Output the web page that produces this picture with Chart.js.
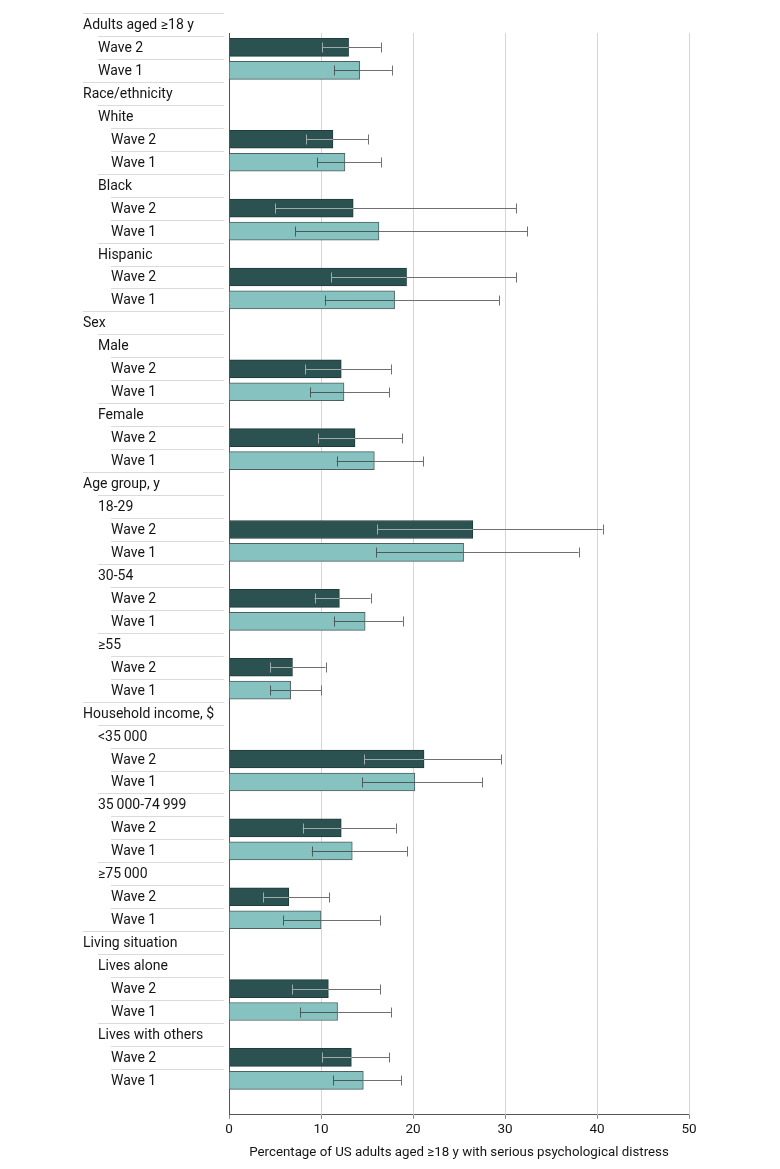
<!DOCTYPE html>
<html>
<head>
<meta charset="utf-8">
<script src="https://cdn.jsdelivr.net/npm/chart.js@4/dist/chart.umd.min.js"></script>
<style>
  html, body { margin: 0; padding: 0; background: #fff; }
  #wrap { position: relative; width: 780px; height: 1169px; }
</style>
</head>
<body>
<div id="wrap"><canvas id="chart"></canvas></div>
<script>
// section headers and their subgroups (empty = waves directly under header)
const sections = ["Adults aged ≥18 y", "Race/ethnicity", "Sex", "Age group, y", "Household income, $", "Living situation"];
const subgroups = [
    [],
    ["White", "Black", "Hispanic"],
    ["Male", "Female"],
    ["18-29", "30-54", "≥55"],
    ["<35\u2009000", "35\u2009000-74\u2009999", "≥75\u2009000"],
    ["Lives alone", "Lives with others"],
];
const waveLabels = ["Wave 2", "Wave 1"];

// one value per leaf group, in row order
const wave2 = [13.0, 11.3, 13.5, 19.3, 12.2, 13.7, 26.5, 12.0, 6.9, 21.2, 12.2, 6.5, 10.8, 13.3];
const wave2Low = [10.1, 8.4, 5.0, 11.1, 8.3, 9.7, 16.1, 9.3, 4.5, 14.7, 8.0, 3.7, 6.9, 10.1];
const wave2High = [16.5, 15.1, 31.2, 31.2, 17.6, 18.8, 40.6, 15.4, 10.5, 29.6, 18.1, 10.9, 16.4, 17.4];
const wave1 = [14.2, 12.6, 16.3, 18.0, 12.5, 15.8, 25.5, 14.8, 6.7, 20.2, 13.4, 10.0, 11.8, 14.6];
const wave1Low = [11.4, 9.6, 7.2, 10.4, 8.8, 11.7, 16.0, 11.4, 4.5, 14.5, 9.0, 5.9, 7.7, 11.3];
const wave1High = [17.7, 16.5, 32.4, 29.4, 17.4, 21.1, 38.0, 18.9, 10.0, 27.5, 19.4, 16.4, 17.6, 18.7];

const xTicks = [0, 10, 20, 30, 40, 50];
const xTitle = "Percentage of US adults aged ≥18 y with serious psychological distress";

const FONT = "Roboto, 'DejaVu Sans Condensed', sans-serif";
const DARK = "#2b5251";
const LIGHT = "#85c2c0";

// flatten into rows
const rows = [];
let leaf = 0;
function addWaves(level) {
    rows.push({label: waveLabels[0], level, wave: 2, leaf});
    rows.push({label: waveLabels[1], level, wave: 1, leaf});
    leaf++;
}
sections.forEach((name, i) => {
    rows.push({label: name, level: 0});
    if (!subgroups[i].length) { addWaves(1); return; }
    subgroups[i].forEach(sub => {
        rows.push({label: sub, level: 1});
        addWaves(2);
    });
});
// blank row under the last bar, before the axis
rows.push({label: "", level: 0, spacer: true});

const pick = (wave, arr) => rows.map(r => r.wave === wave ? arr[r.leaf] : null);

const indentX = [83, 98, 111];
const labelRight = 224;

const rowLabelsPlugin = {
    id: "rowLabels",
    afterDraw(chart) {
        const {ctx} = chart;
        const y = chart.scales.y;
        const step = y.getPixelForValue(1) - y.getPixelForValue(0);
        ctx.save();
        ctx.font = "14px " + FONT;
        ctx.textBaseline = "middle";
        ctx.fillStyle = "#151515";
        ctx.strokeStyle = "#dcdcd6";
        ctx.lineWidth = 1;
        rows.forEach((r, i) => {
            if (r.spacer) return;
            const cy = y.getPixelForValue(i);
            const x0 = indentX[r.level];
            const top = Math.round(cy - step / 2) + 0.5;
            ctx.beginPath();
            ctx.moveTo(x0, top);
            ctx.lineTo(labelRight, top);
            ctx.stroke();
            ctx.fillText(r.label, x0, cy + 1);
        });
        ctx.restore();
    },
};

const gridPlugin = {
    id: "vgrid",
    beforeDatasetsDraw(chart) {
        const {ctx, chartArea} = chart;
        const x = chart.scales.x, y = chart.scales.y;
        const top = (y.getPixelForValue(0) + y.getPixelForValue(1)) / 2 - 3;
        ctx.save();
        ctx.lineWidth = 1;
        xTicks.forEach(v => {
            const px = Math.round(x.getPixelForValue(v)) + 0.5;
            ctx.strokeStyle = v === 0 ? "#555" : "#d6d6d6";
            ctx.beginPath();
            ctx.moveTo(px, top);
            ctx.lineTo(px, chartArea.bottom);
            ctx.stroke();
        });
        ctx.restore();
    },
};

const errs = {2: [wave2Low, wave2High], 1: [wave1Low, wave1High]};

const errorBarPlugin = {
    id: "errorBars",
    afterDatasetsDraw(chart) {
        const {ctx} = chart;
        const x = chart.scales.x;
        ctx.save();
        ctx.lineWidth = 1;
        chart.data.datasets.forEach((ds, di) => {
            const meta = chart.getDatasetMeta(di);
            const [lowArr, highArr] = errs[ds.wave];
            meta.data.forEach((bar, i) => {
                const r = rows[i];
                if (r.wave !== ds.wave) return;
                const lo = x.getPixelForValue(lowArr[r.leaf]);
                const hi = x.getPixelForValue(highArr[r.leaf]);
                const end = bar.x;
                const cy = Math.round(bar.y) + 0.5;
                const inside = ds.wave === 2 ? "#9fabaa" : "#4a5a59";
                const outside = "#707070";
                // part over the bar
                ctx.strokeStyle = inside;
                ctx.beginPath();
                ctx.moveTo(lo, cy); ctx.lineTo(Math.min(end, hi), cy);
                ctx.moveTo(Math.round(lo) + 0.5, cy - 5); ctx.lineTo(Math.round(lo) + 0.5, cy + 5);
                ctx.stroke();
                // part past the bar end
                ctx.strokeStyle = outside;
                ctx.beginPath();
                if (hi > end) { ctx.moveTo(end, cy); ctx.lineTo(hi, cy); }
                ctx.moveTo(Math.round(hi) + 0.5, cy - 5); ctx.lineTo(Math.round(hi) + 0.5, cy + 5);
                ctx.stroke();
            });
        });
        ctx.restore();
    },
};

Chart.defaults.font.family = FONT;
Chart.defaults.color = "#151515";

new Chart(document.getElementById("chart"), {
    type: "bar",
    data: {
        labels: rows.map(r => r.label),
        datasets: [
            {label: "Wave 2", wave: 2, data: pick(2, wave2), backgroundColor: DARK, borderColor: "#1f3b3a",
             borderWidth: 1, barThickness: 18, grouped: false},
            {label: "Wave 1", wave: 1, data: pick(1, wave1), backgroundColor: LIGHT, borderColor: "#4d5f5e",
             borderWidth: 1, barThickness: 18, grouped: false},
        ],
    },
    options: {
        indexAxis: "y",
        responsive: true,
        maintainAspectRatio: false,
        animation: false,
        layout: {padding: {left: 229, right: 91, top: 13, bottom: 4}},
        plugins: {legend: {display: false}, tooltip: {enabled: false}},
        scales: {
            y: {display: false, offset: true},
            x: {
                min: 0, max: 50,
                afterBuildTicks: s => { s.ticks = xTicks.map(v => ({value: v})); },
                grid: {drawOnChartArea: false, color: "#888", tickLength: 4},
                border: {color: "#555"},
                ticks: {font: {size: 13.5}, color: "#151515", padding: 3},
                title: {display: true, text: xTitle, font: {size: 13.3}, color: "#151515", padding: {top: 4, bottom: 4}},
            },
        },
    },
    plugins: [gridPlugin, errorBarPlugin, rowLabelsPlugin],
});
</script>
</body>
</html>
